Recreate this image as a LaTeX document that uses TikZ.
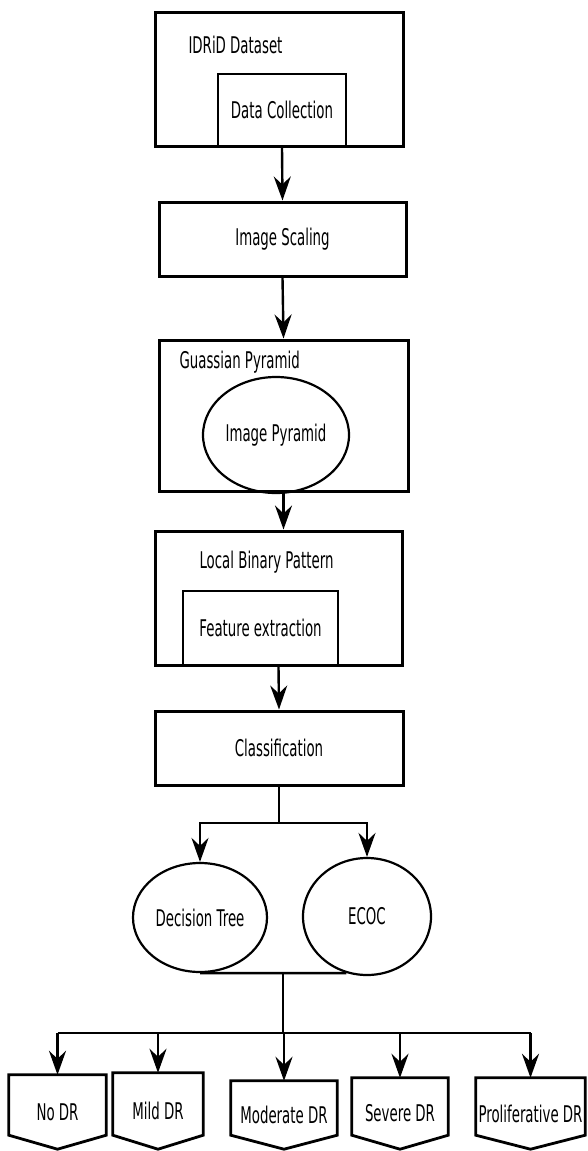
\documentclass[tikz,border=0pt]{standalone}
\usepackage{fontspec}
\setmainfont{DejaVu Sans}[FakeStretch=0.58]
\usepackage{tikz}
\usetikzlibrary{positioning,calc,shapes,arrows.meta}
\tikzset{>={Stealth[length=24pt,width=17pt,inset=8pt]},
bx/.style={rectangle,draw,line width=3pt,inner sep=0pt},
ib/.style={rectangle,draw,line width=2.8pt,inner sep=0pt},
ov/.style={ellipse,draw,line width=2.2pt,inner sep=0pt},
gr/.style={rectangle,inner sep=0pt},
ln/.style={line width=2.4pt},
tx/.style={font=\fontsize{23}{27}\selectfont},
}

\begin{document}
\begin{tikzpicture}[x=1pt,y=-1pt,every node/.append style={tx}]
\useasboundingbox (0,0) rectangle (587,1151);

\node[bx,minimum width=248pt,minimum height=134pt] (idrid) at (279,79) {};
\node[anchor=west] (idridlbl) at (185,45) {IDRiD Dataset};
\node[ib,minimum width=128pt,minimum height=72pt] (datacol) at (282,110) {Data Collection};
\node[bx,minimum width=247pt,minimum height=74pt] (scaling) at (282.5,239) {Image Scaling};
\node[bx,minimum width=249pt,minimum height=151pt] (gauss) at (283.5,415.5) {};
\node[anchor=west] (gausslbl) at (176,362) {Guassian Pyramid};
\node[ov,minimum width=146pt,minimum height=116pt] (imgpyr) at (276,435) {Image Pyramid};
\node[bx,minimum width=247pt,minimum height=134pt] (lbp) at (278.5,598) {};
\node[anchor=west] (lbplbl) at (196,562) {Local Binary Pattern};
\node[ib,minimum width=155pt,minimum height=74pt] (featext) at (260.5,628) {Feature extraction};
\node[bx,minimum width=248pt,minimum height=74pt] (classif) at (279,748) {Classification};
\node[ov,minimum width=134pt,minimum height=109pt] (dtree) at (200,917.5) {Decision Tree};
\node[ov,minimum width=128pt,minimum height=117pt] (ecoc) at (367,916.5) {ECOC};

\node[gr,minimum width=97pt,minimum height=74pt] (nodr) at (57.5,1112) {No DR};
\node[gr,minimum width=90pt,minimum height=76pt] (milddr) at (158,1111) {Mild DR};
\node[gr,minimum width=106pt,minimum height=68pt] (moddr) at (284,1115) {Moderate DR};
\node[gr,minimum width=96pt,minimum height=71pt] (sevdr) at (400,1113.5) {Severe DR};
\node[gr,minimum width=109pt,minimum height=71pt] (prolif) at (530.5,1113.5) {Proliferative DR};
\foreach \g in {nodr,milddr,moddr,sevdr,prolif}
  \draw[line width=2.8pt] (\g.north west) -- (\g.north east) -- ([yshift=14pt]\g.south east)
    -- (\g.south) -- ([yshift=14pt]\g.south west) -- cycle;

\coordinate (jcls) at (279,823);
\coordinate (jmrg) at (283,972);
\coordinate (jspl) at (283,1033);

\draw[ln,->] (datacol.south) -- (scaling.north);
\draw[ln,->] (scaling.south) -- (gauss.north);
\draw[ln,->] (gauss.south) -- (gauss.south |- lbp.north);
\draw[ln,->] (lbp.south) -- (classif.north);
\draw[ln] (classif.south) -- (jcls);
\draw[ln,->] (jcls) -| (dtree.north);
\draw[ln,->] (jcls) -| (ecoc.north);
\draw[ln] (dtree.south) -- (ecoc.250);
\draw[ln] (jmrg) -- (jspl);
\draw[ln] (nodr.north |- jspl) -- (prolif.north |- jspl);
\foreach \g in {nodr,milddr,moddr,sevdr,prolif}
  \draw[ln,->] (\g.north |- jspl) -- (\g.north);
\end{tikzpicture}
\end{document}
